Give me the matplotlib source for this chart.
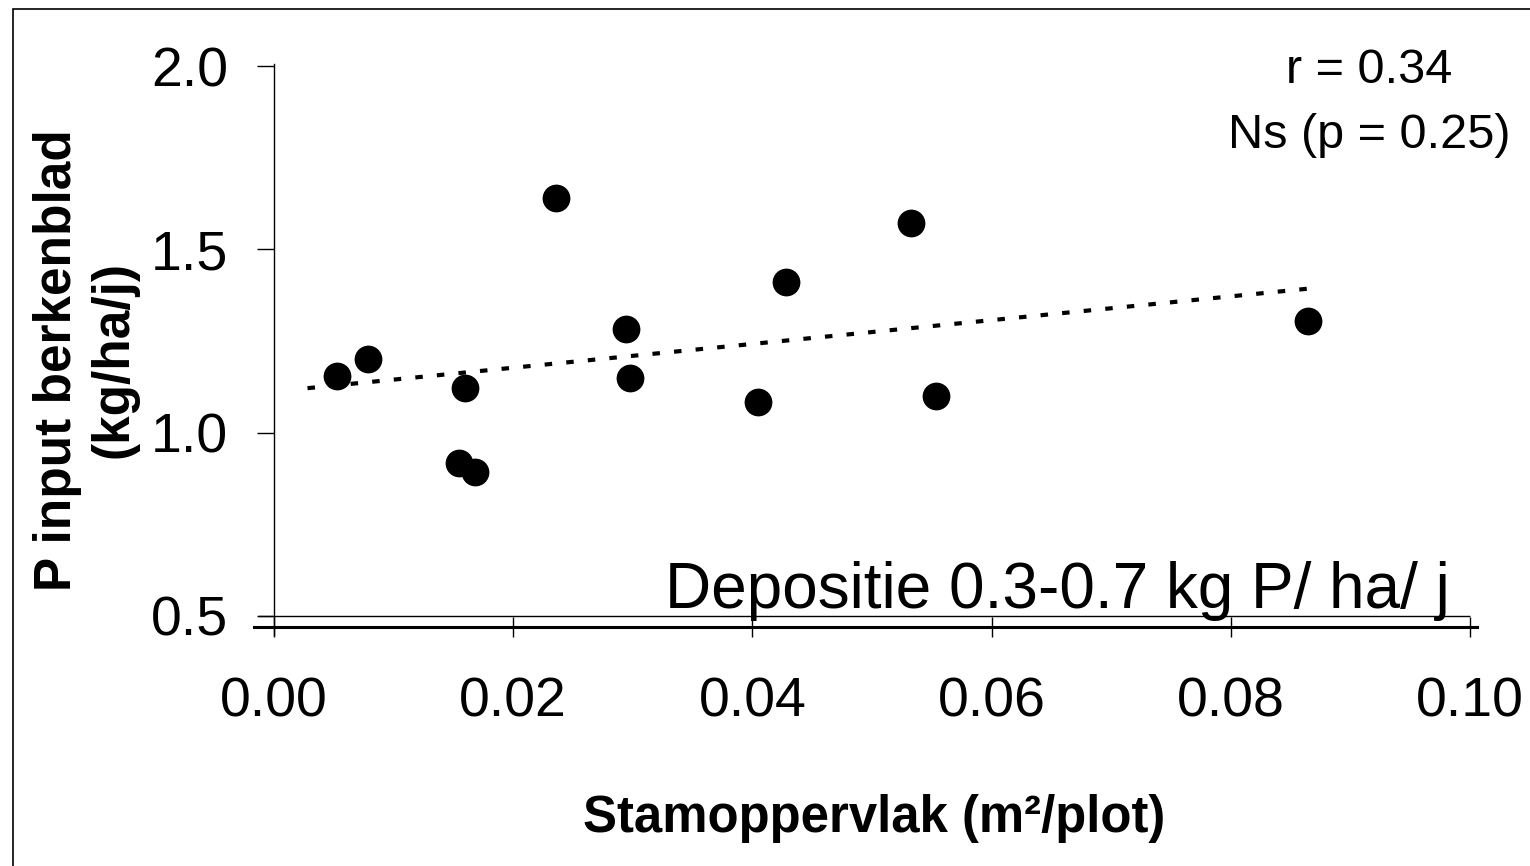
import numpy as np
import matplotlib
matplotlib.use('Agg')
import matplotlib.pyplot as plt
from matplotlib.patches import Rectangle

plt.rcParams['font.family'] = ['Liberation Sans', 'DejaVu Sans']

# Stamoppervlak (m2/plot) en P input berkenblad (kg/ha/j)
stam = [0.0053, 0.0079, 0.0160, 0.0155, 0.0168, 0.0236, 0.0294,
        0.0298, 0.0405, 0.0428, 0.0533, 0.0554, 0.0865]
p_input = [1.154, 1.201, 1.122, 0.917, 0.893, 1.640, 1.283,
           1.149, 1.084, 1.411, 1.572, 1.100, 1.304]
x_ticks = [0.00, 0.02, 0.04, 0.06, 0.08, 0.10]
y_ticks = [0.5, 1.0, 1.5, 2.0]
trend_start = 0.0028

W, H = 1530, 866
fig = plt.figure(figsize=(W / 100, H / 100), dpi=100)

# ax-positie in pixels omrekenen
x0, x1 = 253.7, 1477.0
y0, y1 = 635.0, 64.2
ax = fig.add_axes([x0 / W, 1 - y0 / H, (x1 - x0) / W, (y0 - y1) / H])
ax.set_xlim(-0.0017, 0.1006)
ax.set_ylim(0.448, 2.005)
ax.patch.set_alpha(0)

ax.spines['top'].set_visible(False)
ax.spines['right'].set_visible(False)
ax.spines['left'].set_position(('data', 0))
ax.spines['left'].set_linewidth(1.0)
ax.spines['bottom'].set_position(('data', 0.47))
ax.spines['bottom'].set_linewidth(2.2)

ax.set_xticks(x_ticks)
ax.set_xticklabels(['%.2f' % v for v in x_ticks])
ax.set_yticks(y_ticks)
ax.set_yticklabels(['%.1f' % v for v in y_ticks])
ax.tick_params(axis='x', direction='inout', length=13.7, width=1.0,
               labelsize=40, pad=29)
ax.tick_params(axis='y', direction='out', length=12, width=1.0,
               labelsize=40, pad=21)

# dunne lijn op 0.5
ax.hlines(0.5, -0.0013, 0.10, color='black', lw=1.0)

# punten
x = np.array(stam)
y = np.array(p_input)
ax.scatter(x, y, s=400, color='black', zorder=3, linewidths=0)

# trendlijn
a, b = np.polyfit(x, y, 1)
xf = np.array([trend_start, x.max()])
ax.plot(xf, a * xf + b, color='black', lw=3, linestyle=(0, (1.8, 3.4)))

# teksten
fig.text(1369 / W, 1 - 83 / H, 'r = 0.34', fontsize=35, ha='center', va='baseline')
fig.text(1369 / W, 1 - 148 / H, 'Ns (p = 0.25)', fontsize=35, ha='center', va='baseline')
fig.text(1450 / W, 1 - 608 / H, 'Depositie 0.3-0.7 kg P/ ha/ j', fontsize=46,
         ha='right', va='baseline')

fig.text(874 / W, 1 - 832 / H, 'Stamoppervlak (m²/plot)', fontsize=36.6,
         fontweight='bold', ha='center', va='baseline')
fig.text(86 / W, 1 - 360 / H, 'P input berkenblad\n(kg/ha/j)', fontsize=37,
         fontweight='bold', rotation=90, ha='center', va='center',
         multialignment='center', linespacing=1.2)

# kader rondom
fig.patches.append(Rectangle((13 / W, -0.1), 1.2, 1 - 9 / H + 0.1,
                             transform=fig.transFigure, fill=False,
                             edgecolor='black', lw=1.2))

fig.savefig('out.png', dpi=100)
